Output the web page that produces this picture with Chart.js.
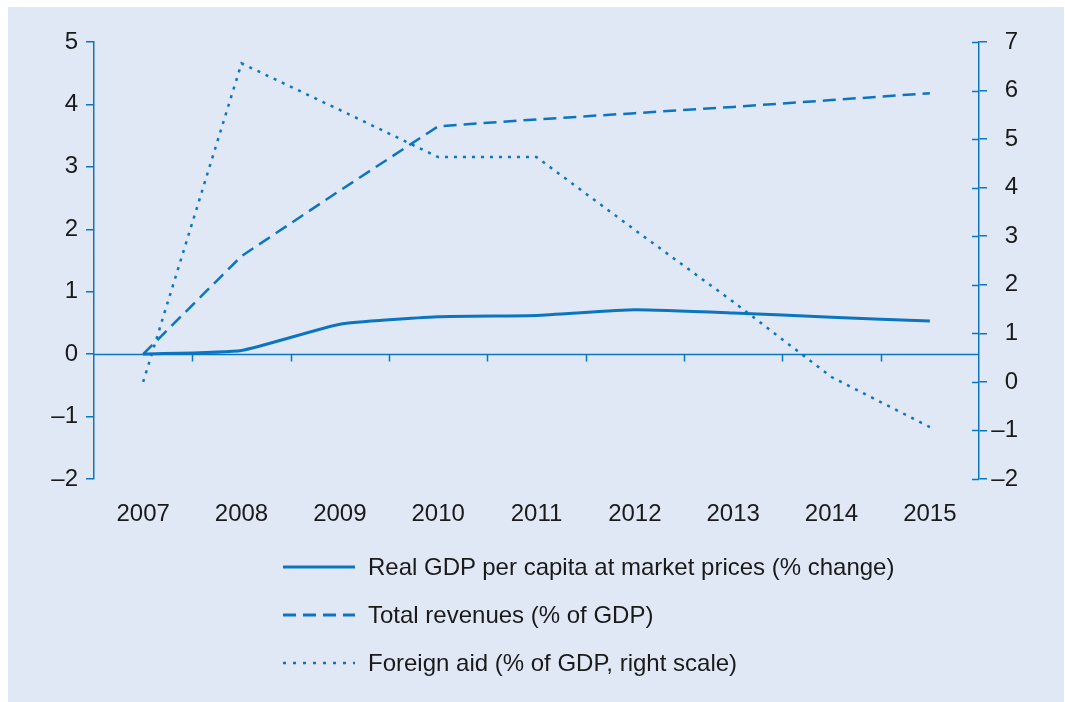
<!DOCTYPE html>
<html>
<head>
<meta charset="utf-8">
<script src="https://cdn.jsdelivr.net/npm/chart.js@4"></script>
<style>
  body { margin: 0; background: #fff; }
  #wrap { position: absolute; left: 8px; top: 7px; width: 1056px; height: 695px; background: #e1e8f5; }
  #chart { position: absolute; left: 0; top: 0; }
  .leg { position: absolute; left: 275px; height: 30px; font: 24px "Liberation Sans", Arial, sans-serif; color: #1a1a1a; white-space: nowrap; }
  .leg svg { position: absolute; left: 0; top: 0; }
  .leg span { position: absolute; left: 85px; top: 0; line-height: 30px; }
</style>
</head>
<body>
<div id="wrap">
  <canvas id="chart" width="1056" height="695"></canvas>
  <div class="leg" style="top:545px"><svg width="80" height="30"><line x1="0" y1="15" x2="72" y2="15" stroke="#0b76bf" stroke-width="3"/></svg><span>Real GDP per capita at market prices (% change)</span></div>
  <div class="leg" style="top:593px"><svg width="80" height="30"><line x1="0" y1="15" x2="72" y2="15" stroke="#0b76bf" stroke-width="3" stroke-dasharray="13 7"/></svg><span>Total revenues (% of GDP)</span></div>
  <div class="leg" style="top:641px"><svg width="80" height="30"><line x1="0" y1="15" x2="72" y2="15" stroke="#0b76bf" stroke-width="2.5" stroke-dasharray="3 7"/></svg><span>Foreign aid (% of GDP, right scale)</span></div>
</div>
<script>
// values
var years = ['2007', '2008', '2009', '2010', '2011', '2012', '2013', '2014', '2015'];
var gdp = [0, 0.06, 0.48, 0.6, 0.62, 0.71, 0.66, 0.59, 0.53];
var revenues = [0, 1.57, 2.62, 3.65, 3.76, 3.86, 3.96, 4.07, 4.18];
var aid = [0, 6.56, 5.6, 4.63, 4.63, 3.13, 1.65, 0.1, -0.93];

var blue = '#0b76bf';
var fontSpec = { family: '"Liberation Sans", Arial, sans-serif', size: 24 };

function fmt(v) {
    return v < 0 ? '\u2013' + Math.abs(v) : String(v);
}

// zero line across the plot, with category ticks, plus inner ticks on the right axis
var zeroLine = {
    id: 'zeroLine',
    afterDraw: function(chart) {
        var ctx = chart.ctx;
        var x = chart.scales.x, y = chart.scales.y, y2 = chart.scales.y2;
        var y0 = Math.round(y.getPixelForValue(0)) + 0.5;
        ctx.save();
        ctx.strokeStyle = blue;
        ctx.lineWidth = 1.5;
        ctx.beginPath();
        ctx.moveTo(x.left, y0);
        ctx.lineTo(x.right, y0);
        var w = (x.right - x.left) / years.length;
        for (var k = 1; k < years.length; k++) {
            var px = Math.round(x.left + k * w) + 0.5;
            ctx.moveTo(px, y0);
            ctx.lineTo(px, y0 + 7);
        }
        for (var v = -2; v <= 7; v++) {
            var py = Math.round(y2.getPixelForValue(v)) + 0.5;
            ctx.moveTo(y2.left - 7, py);
            ctx.lineTo(y2.left, py);
        }
        ctx.stroke();
        ctx.restore();
    }
};

new Chart(document.getElementById('chart'), {
    type: 'line',
    data: {
        labels: years,
        datasets: [{
            label: 'Real GDP per capita at market prices (% change)',
            data: gdp,
            yAxisID: 'y',
            borderColor: blue,
            borderWidth: 3,
            tension: 0.15,
            pointRadius: 0
        }, {
            label: 'Total revenues (% of GDP)',
            data: revenues,
            yAxisID: 'y',
            borderColor: blue,
            borderWidth: 2.5,
            borderDash: [13, 7],
            pointRadius: 0
        }, {
            label: 'Foreign aid (% of GDP, right scale)',
            data: aid,
            yAxisID: 'y2',
            borderColor: blue,
            borderWidth: 2.5,
            borderDash: [3, 6],
            pointRadius: 0
        }]
    },
    options: {
        responsive: false,
        animation: false,
        layout: { padding: { top: 35, right: 46, left: 0, bottom: 0 } },
        plugins: {
            legend: { display: false },
            tooltip: { enabled: false }
        },
        scales: {
            x: {
                offset: true,
                grid: { display: false, drawTicks: false },
                border: { display: false },
                ticks: { color: '#1a1a1a', font: fontSpec, padding: 21, maxRotation: 0 },
                afterFit: function(s) { s.height = 223; }
            },
            y: {
                position: 'left',
                min: -2, max: 5,
                grid: { drawOnChartArea: false, color: blue, tickLength: 8, lineWidth: 1.5 },
                border: { color: blue, width: 1.5 },
                ticks: { stepSize: 1, color: '#1a1a1a', font: fontSpec, padding: 8, callback: fmt },
                afterFit: function(s) { s.width = 86; }
            },
            y2: {
                position: 'right',
                min: -2, max: 7,
                grid: { drawOnChartArea: false, color: blue, tickLength: 8, lineWidth: 1.5 },
                border: { color: blue, width: 1.5 },
                ticks: { stepSize: 1, color: '#1a1a1a', font: fontSpec, padding: 5, crossAlign: 'far', callback: fmt },
                afterFit: function(s) { s.width = 39; }
            }
        }
    },
    plugins: [zeroLine]
});
</script>
</body>
</html>
